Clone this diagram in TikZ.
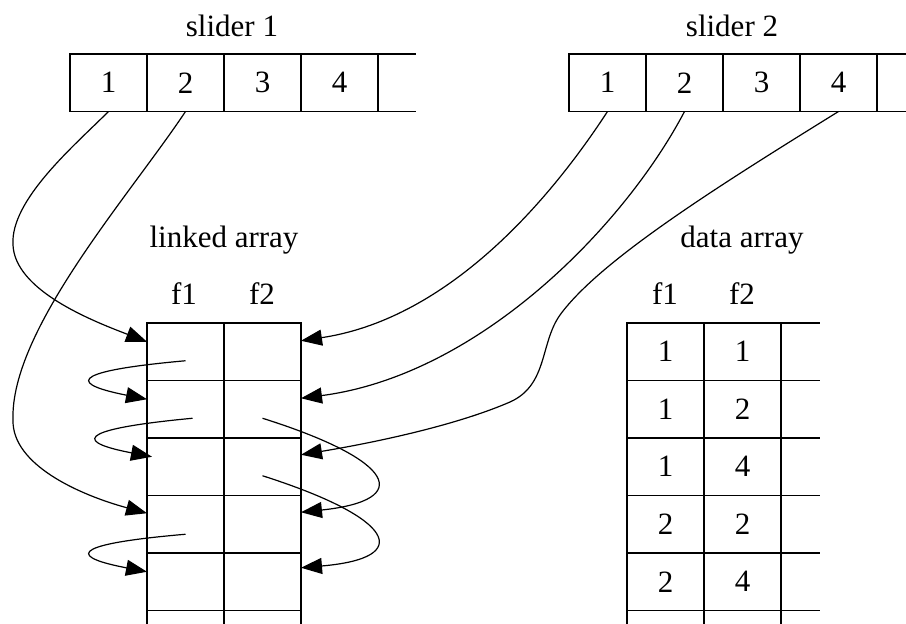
\documentclass[tikz,border=0pt]{standalone}
\usepackage{fontspec}
\setmainfont{Liberation Serif}
\usetikzlibrary{arrows.meta}
\begin{document}
\begin{tikzpicture}[x=1pt,y=-1pt,
  txt/.style={font=\fontsize{31}{37}\selectfont, inner sep=0pt},
  cell/.style={txt, draw, line width=1.3pt, minimum width=77pt, minimum height=57.5pt, outer sep=0pt},
  grid/.style={line width=1.3pt},
  link/.style={line width=1.2pt, -{Triangle[length=21pt,width=16pt]}}]
\useasboundingbox (0,0) rectangle (906,624);

% titles
\node[txt, anchor=base] (t1) at (232,36) {slider 1};
\node[txt, anchor=base] (t2) at (732,36) {slider 2};
\node[txt, anchor=base] (t3) at (224,247) {linked array};
\node[txt, anchor=base] (t4) at (742,247) {data array};
\node[txt, anchor=base] (lf1) at (184,304) {f1};
\node[txt, anchor=base] (lf2) at (262,304) {f2};
\node[txt, anchor=base] (df1) at (665,304) {f1};
\node[txt, anchor=base] (df2) at (742,304) {f2};

% sliders
\foreach \v [count=\i] in {1,2,3,4}{
  \node[cell] (s1c\i) at ({31.5+77*\i},82.75) {\v};
  \node[cell] (s2c\i) at ({530.5+77*\i},82.75) {\v};
}
\draw[grid] (s1c4.north east) -- ++(38,0) (s1c4.south east) -- ++(38,0);
\draw[grid] (s2c4.north east) -- ++(30,0) (s2c4.south east) -- ++(30,0);

% linked array
\foreach \i in {1,...,5}{
  \node[cell] (la\i) at (185.5,{294.25+57.5*\i}) {};
  \node[cell] (lb\i) at (262.5,{294.25+57.5*\i}) {};
}
\draw[grid] (la5.south west) -- ++(0,14) (la5.south east) -- ++(0,14) (lb5.south east) -- ++(0,14);

% data array
\foreach \a/\b [count=\i] in {1/1,1/2,1/4,2/2,2/4}{
  \node[cell] (da\i) at (665.5,{294.25+57.5*\i}) {\a};
  \node[cell] (db\i) at (742.5,{294.25+57.5*\i}) {\b};
  \draw[grid] (db\i.north east) -- ++(39,0);
}
\draw[grid] (db5.south east) -- ++(39,0);
\draw[grid] (da5.south west) -- ++(0,14) (da5.south east) -- ++(0,14) (db5.south east) -- ++(0,14);

% slider 1 -> f1 column
\draw[link] (s1c1.south) .. controls (75,145) and (10,200) .. (13,245)
  .. controls (15,290) and (90,320) .. ([yshift=10pt]la1.west);
\draw[link] (s1c2.south) .. controls (130,195) and (10,330) .. (13,420)
  .. controls (12,465) and (80,495) .. ([yshift=11pt]la4.west);

% slider 2 -> f2 column
\draw[link] (s2c1.south) .. controls (540,215) and (440,320) .. ([yshift=11pt]lb1.east);
\draw[link] (s2c2.south) .. controls (625,225) and (480,375) .. ([yshift=11pt]lb2.east);
\draw[link] (s2c4.south) .. controls (720,185) and (600,260) .. (560,315)
  .. controls (540,343) and (548,385) .. (510,402)
  .. controls (450,428) and (360,445) .. ([yshift=12pt]lb3.east);

% chains inside the linked array
\draw[link] ([yshift=-9pt]la1.center) .. controls (60,372) and (75,385) .. ([yshift=10pt]la2.west);
\draw[link] ([xshift=7pt,yshift=-9pt]la2.center) .. controls (68,430) and (80,443) .. ([xshift=5pt,yshift=10pt]la3.west);
\draw[link] ([yshift=-10pt]la4.center) .. controls (60,545) and (75,558) .. ([yshift=10pt]la5.west);
\draw[link] ([yshift=-9pt]lb2.center) .. controls (395,460) and (415,500) .. ([yshift=12pt]lb4.east);
\draw[link] ([yshift=-9pt]lb3.center) .. controls (395,518) and (415,558) .. ([yshift=14pt]lb5.east);
\end{tikzpicture}
\end{document}
